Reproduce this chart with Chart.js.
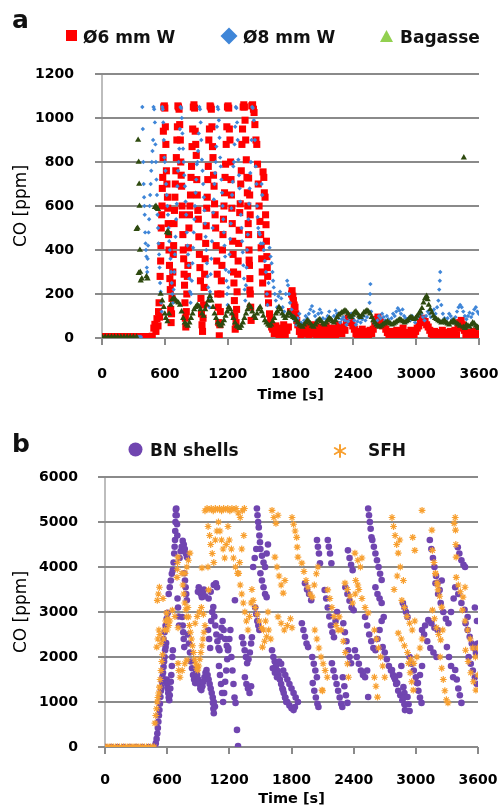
<!DOCTYPE html>
<html>
<head>
<meta charset="utf-8">
<title>CO emissions</title>
<script src="https://cdn.jsdelivr.net/npm/chart.js@4"></script>
<style>
  body { margin: 0; background: #fff; }
  #page { position: relative; width: 502px; height: 809px; font-family: 'DejaVu Sans', sans-serif; color: #111; }
  canvas { position: absolute; left: 0; }
  .txt { position: absolute; font-weight: bold; white-space: nowrap; }
  .panel { font-size: 25px; line-height: 25px; }
  .leg { font-size: 17px; line-height: 17px; }
</style>
</head>
<body>
<div id="page">
  <canvas id="chartA" width="502" height="410" style="top:0"></canvas>
  <canvas id="chartB" width="502" height="405" style="top:404px"></canvas>

  <div class="txt panel" style="left:12px; top:7px">a</div>
  <div class="txt leg" style="left:83px; top:29px">Ø6 mm W</div>
  <div class="txt leg" style="left:243px; top:29px">Ø8 mm W</div>
  <div class="txt leg" style="left:400px; top:29px">Bagasse</div>

  <div class="txt panel" style="left:12px; top:431px">b</div>
  <div class="txt leg" style="left:150px; top:442px">BN shells</div>
  <div class="txt leg" style="left:368px; top:442px">SFH</div>
</div>

<script>
// panel a: CO [ppm] vs time [s]
const w6mmData = [
  [0,6],[20,6],[40,6],[60,6],[80,6],[100,6],[120,6],[140,6],[160,6],[180,6],[200,6],[220,6],[240,6],[260,6],[280,6],[300,6],[320,6],[340,6],[360,6],[380,6],[400,6],[420,6],[440,6],[460,6],[480,8],
  [495,45],[505,62],[515,30],[525,88],[535,55],
  [540,120],[545,160],[550,95],[555,280],[560,350],[563,420],[566,500],[570,560],[573,600],[576,680],[580,730],[583,820],[586,940],[590,1050],[595,1055],[600,1045],[605,960],[610,880],[615,760],[620,700],[625,640],[628,590],[632,520],[636,470],[640,400],[644,330],[648,270],[652,220],[656,130],[660,70],[664,110],[668,180],
  [672,250],[676,300],[680,380],[684,420],[688,520],[692,580],[696,640],[700,700],[705,760],[710,820],[715,900],[720,960],[725,1055],[730,1050],[736,1040],[742,970],[748,900],[752,800],[756,740],[760,690],[764,600],[768,560],[772,470],[776,400],[780,360],[784,290],[788,240],[792,160],[796,90],[800,50],
  [805,120],[810,200],[815,280],[820,330],[825,410],[830,500],[835,560],[840,600],[845,650],[850,730],[855,780],[860,870],[866,950],[872,1050],[878,1060],[884,1045],[890,940],[895,880],[900,830],[905,720],[910,650],[915,580],[920,540],[925,460],[930,380],[935,320],[940,260],[945,180],[950,110],[955,60],
  [960,30],[965,90],[970,150],[975,230],[980,290],[985,360],[990,430],[995,510],[1000,590],[1005,640],[1010,720],[1015,780],[1020,900],[1026,950],[1032,1055],[1038,1050],[1044,1040],[1050,960],[1055,870],[1060,820],[1065,740],[1070,690],[1075,610],[1080,560],[1085,500],[1090,420],[1095,350],[1100,290],[1105,200],[1110,140],[1115,70],[1120,10],
  [1125,60],[1130,120],[1135,200],[1140,260],[1145,330],[1150,400],[1155,470],[1160,540],[1165,600],[1170,660],[1175,730],[1180,790],[1186,880],[1192,960],[1198,1050],[1204,1055],[1210,1045],[1216,950],[1222,900],[1228,800],[1232,720],[1236,650],[1240,590],[1244,520],[1248,440],[1252,380],[1256,300],[1260,250],[1264,170],[1268,100],[1272,40],
  [1280,70],[1285,130],[1290,210],[1295,290],[1300,350],[1305,430],[1310,490],[1315,570],[1320,610],[1325,700],[1330,760],[1336,880],[1342,950],[1348,1050],[1354,1060],[1360,1050],[1366,990],[1372,900],[1378,810],[1384,730],[1388,660],[1392,600],[1396,520],[1400,470],[1404,400],[1408,330],[1412,270],[1416,200],[1420,140],[1424,80],
  [1400,727],[1410,650],[1415,560],[1405,354],[1412,218],
  [1430,1055],[1438,1060],[1446,1040],[1452,1025],[1460,970],[1470,900],[1478,880],[1485,790],[1492,700],[1500,600],[1508,530],[1515,470],[1520,410],[1525,360],[1530,300],[1534,250],[1538,755],[1545,730],[1550,660],[1557,640],[1562,560],[1566,515],[1570,440],[1574,370],[1578,320],[1582,280],[1585,200],[1590,160],[1600,110],[1610,80],[1620,50],
  [1630,40],[1645,20],[1660,55],[1675,30],[1690,10],[1705,45],[1720,25],[1735,60],[1750,15],[1765,35],[1780,50],
  [1800,120],[1810,200],[1815,215],[1822,190],[1828,170],[1835,150],[1843,140],[1850,110],[1860,80],
  [1870,60],[1885,30],[1900,15],[1915,40],[1930,20],[1945,55],[1960,25],[1975,10],[1990,45],[2005,30],[2020,60],[2035,20],[2050,10],[2065,35],[2080,50],[2095,25],[2110,15],[2125,40],[2140,55],[2155,20],[2170,10],[2185,30],[2200,45],[2215,25],[2230,15],[2245,40],[2260,60],[2275,30],[2290,20],[2305,50],[2320,35],[2335,70],[2350,90],[2365,100],[2380,75],[2395,55],[2410,40],[2425,20],[2440,10],[2455,30],[2470,15],[2485,40],[2500,25],[2515,10],[2530,30],[2545,15],[2560,35],[2575,20],[2590,40],[2605,60],[2620,85],[2635,95],[2650,80],[2665,70],[2680,55],[2695,65],[2710,40],[2725,25],[2740,15],[2755,30],[2770,10],[2785,25],[2800,15],[2815,35],[2830,20],[2845,10],[2860,30],[2875,45],[2890,20],[2905,10],[2920,25],[2935,15],[2950,35],[2965,20],[2980,10],[2995,30],[3010,45],[3025,55],[3040,70],[3055,90],[3070,85],[3085,75],[3100,60],[3115,50],[3130,35],[3145,20],[3160,10],[3175,30],[3190,15],[3205,25],[3220,10],[3235,20],[3250,35],[3265,15],[3280,10],[3295,25],[3310,15],[3325,30],[3340,10],[3355,20],[3370,35],[3385,15],[3400,45],[3415,70],[3430,80],[3445,60],[3460,35],[3475,15],[3490,25],[3505,10],[3520,20],[3535,15],[3550,30],[3565,10],[3580,20],[3595,15]
];

const w8mmData = [
  [345,5],[360,5],[372,5],
  [385,1050],[390,950],[395,800],[398,700],[402,640],[405,600],[408,560],[412,480],[416,430],[420,400],[424,370],[428,320],[432,300],[436,360],[440,420],[445,480],[450,540],[455,600],[460,650],[465,700],[470,760],[476,800],[482,850],[488,900],[492,1050],[498,1040],[505,980],[510,880],[515,800],[520,720],[525,650],[530,560],[535,500],[540,430],[545,380],[550,320],[555,250],[560,210],[565,160],[570,120],[575,1050],[580,1040],
  [585,980],[590,900],[596,820],[600,800],[606,760],[612,700],[618,650],[624,600],[630,560],[636,500],[642,440],[648,400],[654,360],[660,300],[666,250],[672,200],[678,160],[684,220],[690,300],[696,380],[702,460],[708,540],[714,610],[720,690],[726,760],[732,800],[738,860],[744,950],[750,1050],[756,1045],[762,1000],[768,930],[774,860],[780,800],[786,740],[792,690],[798,620],[804,560],[810,480],[816,420],[822,380],[828,330],[834,270],[840,210],[846,160],[852,200],[858,260],[864,340],[870,410],[876,480],[882,540],[888,600],[894,660],[900,720],[906,790],[912,800],[918,850],[924,930],[930,1050],[936,1040],[942,980],[948,900],[954,810],[960,760],[966,700],[972,640],[978,580],[984,520],[990,460],[996,400],[1002,340],[1008,280],[1014,230],[1020,180],[1026,140],[1032,210],[1038,290],[1044,360],[1050,440],[1056,500],[1062,570],[1068,630],[1074,700],[1080,750],[1086,800],[1092,870],[1098,960],[1104,1050],[1110,1040],[1116,990],[1122,910],[1128,820],[1134,780],[1140,720],[1146,660],[1152,600],[1158,540],[1164,480],[1170,420],[1176,370],[1182,310],[1188,260],[1194,200],[1200,150],[1206,230],[1212,300],[1218,380],[1224,450],[1230,520],[1236,590],[1242,650],[1248,710],[1254,780],[1260,800],[1266,880],[1272,960],[1278,1050],[1284,1045],[1290,980],[1296,900],[1302,810],[1308,740],[1314,680],[1320,620],[1326,560],[1332,500],[1338,440],[1344,390],[1350,330],[1356,270],[1362,220],[1368,170],[1374,240],[1380,320],[1386,400],[1392,470],[1398,540],[1404,610],[1410,680],[1416,750],[1422,800],[1428,900],[1434,1050],[1440,1045],
  [1450,990],[1460,900],[1468,780],[1475,700],[1480,600],[1486,550],[1492,500],[1500,480],[1508,470],[1516,430],[1524,700],[1530,650],[1536,430],[1545,400],[1555,350],[1565,300],[1575,200],[1580,150],[1590,250],[1600,410],[1610,370],[1620,340],[1628,300],[1634,260],[1640,230],[1650,200],[1660,170],[1672,140],[1685,190],[1700,210],[1712,180],[1725,140],[1740,120],[1755,200],[1768,260],[1776,240],[1785,200],[1795,160],[1810,130],[1825,100],[1840,80],
  [1855,60],[1870,90],[1885,110],[1900,70],[1915,60],[1930,80],[1945,100],[1960,90],[1975,110],[1990,130],[2005,145],[2020,120],[2035,100],[2050,80],[2065,110],[2080,130],[2095,115],[2110,90],[2125,70],[2140,85],[2155,100],[2170,120],[2185,90],[2200,75],[2215,100],[2230,125],[2245,110],[2260,90],[2275,70],[2290,85],[2305,95],[2320,80],[2335,60],[2350,75],[2365,90],[2380,110],[2395,95],[2410,80],[2425,60],[2440,75],[2455,90],[2470,70],[2485,85],[2500,100],[2515,80],[2530,95],[2545,120],[2555,160],[2560,200],[2563,245],[2570,120],[2585,90],[2600,70],[2615,60],[2630,80],[2645,100],[2660,90],[2675,110],[2690,95],[2705,80],[2720,100],[2735,85],[2750,70],[2765,90],[2780,110],[2795,100],[2810,120],[2825,135],[2840,125],[2855,110],[2870,130],[2885,100],[2900,90],[2915,75],[2930,90],[2945,80],[2960,100],[2975,85],[2990,70],[3005,90],[3020,100],[3035,120],[3050,110],[3065,95],[3080,80],[3095,100],[3110,120],[3125,110],[3140,95],[3155,120],[3170,130],[3185,110],[3200,140],[3212,170],[3220,220],[3226,260],[3230,300],[3240,150],[3255,110],[3270,90],[3285,75],[3300,90],[3315,110],[3330,100],[3345,85],[3360,70],[3375,95],[3390,120],[3405,140],[3420,150],[3435,140],[3450,120],[3465,100],[3480,85],[3495,100],[3510,115],[3525,95],[3540,110],[3555,130],[3570,140],[3585,120],[3598,110]
];

const bagasseData = [
  [0,5],[30,5],[60,5],[90,5],[120,5],[150,5],[180,5],[210,5],[240,5],[270,5],[300,5],[330,5],
  [345,900],[350,800],[355,700],[358,600],[340,500],[330,495],[362,400],[365,300],[350,295],[380,270],[370,260],
  [425,280],[435,270],[505,595],[515,600],[525,590],[535,585],[620,480],[630,485],[640,475],
  [560,200],[575,170],[590,140],[600,110],[610,90],[625,75],[640,110],[655,150],[670,175],[685,180],[700,175],[715,165],[730,160],[745,150],[760,120],[775,90],[790,70],[805,60],[820,55],[835,70],[850,90],[865,110],[880,130],[895,140],[910,150],[925,145],[940,130],[955,110],[970,100],[985,130],[1000,150],[1015,170],[1030,190],[1045,170],[1060,140],[1075,110],[1090,90],[1105,70],[1120,60],[1135,55],[1150,65],[1165,80],[1180,100],[1195,120],[1210,140],[1225,130],[1240,110],[1255,90],[1270,70],[1285,55],[1300,50],[1315,45],[1330,55],[1345,70],[1360,90],[1375,110],[1390,130],[1405,150],[1420,140],[1435,120],[1450,100],[1465,90],[1480,110],[1495,130],[1510,140],[1525,120],[1540,100],[1555,80],[1570,70],[1585,60],[1600,55],[1615,60],[1630,75],[1645,90],[1660,110],[1675,120],[1690,140],[1705,130],[1720,110],[1735,100],[1750,90],[1765,100],[1780,115],[1795,110],[1810,100],[1825,95],[1840,90],
  [1855,80],[1870,70],[1885,60],[1900,55],[1915,50],[1930,60],[1945,70],[1960,80],[1975,75],[1990,65],[2005,55],[2020,50],[2035,60],[2050,70],[2065,80],[2080,85],[2095,75],[2110,65],[2125,60],[2140,70],[2155,80],[2170,90],[2185,85],[2200,75],[2215,70],[2230,80],[2245,95],[2260,105],[2275,110],[2290,115],[2305,120],[2320,125],[2335,120],[2350,110],[2365,100],[2380,95],[2395,105],[2410,115],[2425,120],[2440,110],[2455,100],[2470,95],[2485,105],[2500,115],[2515,120],[2530,125],[2545,120],[2560,110],[2575,95],[2590,80],[2605,70],[2620,60],[2635,55],[2650,50],[2665,55],[2680,60],[2695,65],[2710,70],[2725,75],[2740,70],[2755,65],[2770,60],[2785,65],[2800,70],[2815,75],[2830,80],[2845,85],[2860,80],[2875,75],[2890,70],[2905,75],[2920,80],[2935,90],[2950,95],[2965,90],[2980,85],[2995,90],[3010,100],[3025,110],[3040,120],[3055,135],[3070,160],[3085,180],[3100,190],[3110,175],[3120,150],[3135,130],[3150,115],[3165,100],[3180,90],[3195,85],[3210,80],[3225,75],[3240,70],[3255,75],[3270,80],[3285,70],[3300,65],[3315,60],[3330,70],[3345,75],[3360,80],[3375,70],[3390,65],[3405,60],[3420,55],[3455,820],[3450,50],[3465,45],[3480,60],[3495,55],[3510,50],[3525,60],[3540,70],[3555,65],[3570,55],[3585,50],[3598,45]
];

// panel b
const bnShellsData = [
  [0,0],[60,0],[120,0],[180,0],[240,0],[300,0],[360,0],[420,0],
  [480,20],[490,80],[498,180],[505,300],[510,420],[515,560],[520,700],[525,820],[530,960],[535,1110],[540,1250],[545,1330],[550,1450],[555,1560],[560,1650],[565,1780],[570,1900],[575,2000],[580,2150],[585,2220],[590,2310],
  [595,1500],[600,1400],[605,1300],[610,1200],[615,1100],[620,1040],[625,1150],[630,1300],[635,1450],[640,1600],[645,1800],[650,2000],[655,2150],
  [565,2400],[575,2550],[585,2700],[595,2850],[605,2980],
  [615,3400],[625,3550],[635,3700],[645,3850],[655,3930],
  [662,4100],[668,4300],[672,4450],[676,4600],[678,4800],[680,5000],[682,5150],[684,5280],[688,5300],[692,5150],[695,4950],[698,4700],
  [720,4200],[730,4350],[740,4450],[750,4580],[760,4500],[770,4400],[780,4300],[790,4220],
  [765,3860],[772,3700],[778,3550],[784,3400],[790,3260],
  [700,3300],[705,3100],[710,2900],[715,2700],
  [745,2890],[750,2700],[755,2550],[760,2400],[765,2220],
  [800,2500],[810,2300],[820,2100],[830,1900],[840,1750],[850,1600],[860,1500],[870,1420],
  [897,3450],[905,3550],[915,3500],[925,3400],[935,3330],[945,3450],[955,3500],[965,3350],
  [1000,3300],[1020,3450],[1050,3600],[1070,3640],[1081,3550],
  [995,2600],[1005,2400],[1015,2200],[1025,2800],[1035,3000],[1045,3110],[1055,2900],[1065,2700],[1075,2500],[1085,2350],[1095,2200],[1105,2150],[1115,2450],[1125,2650],[1135,2800],[1145,2600],[1160,2400],[1175,2250],[1187,2150],
  [880,1700],[890,1600],[900,1500],[910,1400],[920,1300],[930,1265],[940,1350],[950,1450],[960,1550],[970,1650],[980,1710],[990,1600],[1000,1500],[1010,1400],[1020,1300],[1030,1200],[1040,1100],[1050,1000],[1061,900],
  [1042,980],[1046,850],[1050,750],
  [1100,1800],[1110,1600],[1120,1400],[1130,1200],[1140,1000],[1150,1200],[1160,1450],[1170,1700],[1180,1950],[1190,2200],[1200,2400],[1210,2600],[1220,2000],[1230,1700],[1240,1400],[1250,1100],[1260,980],
  [1274,380],[1284,20],[1254,3260],
  [1322,2440],[1335,2300],[1348,2150],[1360,2000],[1372,1860],[1385,1950],[1398,2100],[1410,2300],[1418,2440],
  [1350,1550],[1365,1400],[1380,1300],[1395,1200],[1410,1350],
  [1466,5300],[1472,5150],[1478,5000],[1484,4880],[1490,4700],[1496,4550],
  [1430,4000],[1445,4200],[1460,4400],[1500,4400],[1515,4250],[1530,4100],[1545,4000],[1560,4300],[1573,4500],
  [1500,3860],[1515,3700],[1530,3550],[1545,3400],[1560,3330],
  [1450,3100],[1460,2950],[1470,2800],[1480,2700],[1490,2600],
  [1612,2150],[1625,2000],[1638,1900],[1650,1800],[1662,1700],[1675,1600],[1688,1500],[1700,1400],[1712,1300],[1725,1200],[1738,1100],[1750,1000],[1620,1750],[1640,1650],[1660,1550],[1680,1900],[1700,1850],[1720,1700],[1740,1600],[1760,1500],[1780,1400],[1800,1300],[1820,1200],[1840,1100],[1862,1000],
  [1718,1265],[1740,1100],[1760,1000],[1780,920],[1800,860],[1820,820],[1833,890],
  [1900,2750],[1915,2600],[1930,2450],[1945,2300],[1960,2220],
  [1930,3640],[1950,3500],[1970,3400],[1990,3260],
  [2046,4600],[2055,4450],[2065,4300],[2075,4085],
  [2000,2000],[2015,1850],[2030,1700],[2045,1550],
  [2005,1420],[2020,1250],[2035,1100],[2050,960],[2060,890],
  [2150,4600],[2160,4450],[2172,4300],[2185,4085],
  [2120,3490],[2135,3300],[2150,3100],[2165,2900],[2180,2700],[2195,2550],[2210,2440],[2225,2800],[2240,3000],
  [2190,1860],[2205,1700],[2220,1550],[2235,1400],[2250,1250],[2265,1100],[2280,960],[2290,890],
  [2345,4370],[2360,4200],[2375,4050],[2390,3930],
  [2320,3550],[2340,3400],[2360,3250],[2380,3100],[2400,3040],
  [2300,2750],[2315,2550],[2330,2350],[2345,2150],[2360,2000],[2375,1860],
  [2295,1550],[2310,1350],[2325,1150],[2340,980],
  [2412,2150],[2430,2000],[2450,1850],[2470,1700],[2490,1600],[2510,1550],[2530,1700],
  [2540,5300],[2548,5150],[2556,5000],[2564,4850],[2572,4660],
  [2580,4600],[2595,4450],[2610,4300],[2625,4150],[2640,4000],[2655,3850],[2670,3710],
  [2610,3550],[2630,3400],[2650,3300],[2670,3200],
  [2510,2890],[2530,2700],[2550,2500],[2570,2350],[2590,2200],[2610,2150],[2630,2400],[2650,2600],[2670,2800],[2690,2890],
  [2540,1110],
  [2680,2220],[2700,2100],[2720,1950],[2740,1800],[2760,1700],[2780,1600],[2800,1500],[2820,1420],[2840,1600],[2860,1800],
  [2770,1710],[2790,1550],[2810,1400],[2830,1250],[2850,1150],[2870,1040],[2890,1200],
  [2880,1330],[2885,1100],[2890,950],[2895,820],
  [2920,1110],[2930,950],[2940,800],
  [2875,3200],[2890,3100],[2905,3000],[2920,2890],
  [2940,2000],[2960,1850],[2980,1700],[3000,1550],[3020,1420],[3040,1600],[3060,1800],
  [3010,1420],[3025,1250],[3040,1100],[3055,980],
  [3060,2600],[3090,2700],[3120,2820],[3150,2750],[3180,2650],[3210,2600],
  [3080,2500],[3110,2350],[3140,2200],[3170,2100],[3200,2000],
  [3135,4600],[3150,4400],[3165,4200],[3180,4000],[3195,3800],[3210,3650],[3230,3490],[3250,3700],
  [3190,3640],[3215,3400],[3240,3200],[3265,3000],[3290,2850],[3315,2750],[3340,3000],[3365,3300],
  [3380,1710],[3395,1500],[3410,1300],[3425,1150],[3440,980],
  [3300,2220],[3320,2000],[3340,1800],[3360,1550],
  [3405,4440],[3420,4300],[3440,4150],[3460,4050],[3475,4000],
  [3380,3550],[3410,3400],[3440,3200],[3470,3050],[3500,2890],
  [3480,2750],[3500,2600],[3520,2450],[3540,2300],[3560,2200],[3580,2090],[3598,2300],
  [3510,2000],[3530,1850],[3550,1700],[3570,1550],[3590,1400],[3570,3100],[3590,2800]
];

const sfhData = [
  [0,0],[20,0],[40,0],[60,0],[80,0],[100,0],[120,0],[140,0],[160,0],[180,0],[200,0],[220,0],[240,0],[260,0],[280,0],[300,0],[320,0],[340,0],[360,0],[380,0],[400,0],[420,0],[440,0],[460,0],[475,0],
  [482,530],[490,700],[497,850],[504,1000],[511,1100],[518,1200],[525,1330],[532,1500],[540,1700],[548,1900],[555,2050],[500,2220],[510,2400],[520,2600],[530,2500],[540,2300],
  [505,3260],[515,3400],[525,3550],[560,3300],
  [565,2400],[575,2600],[585,2800],[595,2980],[605,2850],[615,2700],
  [600,2600],[625,2800],[650,3040],[675,2900],[705,2650],
  [695,3770],[698,3950],[701,4100],[704,4220],
  [743,3860],[752,3600],[760,3400],[770,3200],[780,3050],[790,2890],[800,3100],
  [705,1860],[712,1700],
  [805,2890],[815,2700],[825,2550],[835,2400],[845,2250],[855,2100],[865,1950],[875,1850],[885,1750],[895,1710],[905,1800],[915,1950],[925,2100],[935,2250],[945,2400],[955,2550],[965,2700],
  [870,2750],[890,2900],[910,3000],[930,3100],[950,2950],
  [772,3860],[790,4000],[805,4150],[820,4310],
  [724,1550],[745,1700],[770,1850],[790,1930],
  [965,5250],[985,5300],[1005,5280],[1025,5300],[1045,5250],[1065,5300],[1085,5280],[1105,5300],[1125,5250],[1145,5300],[1165,5280],[1185,5300],[1205,5250],[1225,5300],[1245,5280],[1265,5300],[1285,5200],[1305,5100],[1325,5250],[1345,5300],
  [995,4900],[1010,4700],[1020,4500],[1035,4300],[1050,4100],[1065,4600],[1080,4800],[1095,5000],[1110,4800],[1125,4600],[1140,4400],[1155,4200],[1170,4500],[1187,4900],
  [994,4000],[1000,3490],[936,3980],
  [1200,4600],[1220,4400],[1240,4200],[1260,4000],[1280,3860],[1300,4100],[1320,4400],[1340,4700],
  [1290,3860],[1305,3600],[1320,3400],[1335,3200],[1350,3000],[1365,2800],[1380,2600],[1395,2900],[1410,3200],[1418,3500],
  [1430,3260],[1450,3100],[1470,2950],[1490,2800],[1510,2650],[1530,2600],[1550,2800],[1573,3000],
  [1520,2220],[1540,2350],[1560,2450],[1580,2600],[1600,2400],
  [1612,5260],[1630,5100],[1650,4970],[1670,5150],
  [1640,4220],[1660,4000],[1680,3800],[1700,3600],[1720,3420],[1737,3700],
  [1670,2890],[1700,2750],[1730,2600],[1760,2700],[1790,2850],[1805,2650],
  [1805,5100],[1820,4950],[1835,4800],[1850,4660],[1855,4440],[1862,4220],
  [1900,4085],[1920,3900],[1940,3700],[1960,3550],[1980,3400],[2000,3330],[2020,3600],[2040,3850],[2055,4000],
  [2025,2600],[2045,2400],[2065,2200],[2085,2000],[2105,1850],[2125,1700],[2145,1550],
  [2094,1265],[2100,1250],
  [2150,3490],[2170,3300],[2190,3100],[2210,2900],[2230,2700],[2250,2600],
  [2316,3640],[2340,3500],[2365,3350],[2390,3200],[2415,3400],[2440,3600],
  [2260,2890],[2280,2600],[2300,2350],[2320,2100],[2340,1850],[2350,1550],
  [2412,4310],[2440,4150],[2465,4000],[2480,4200],
  [2420,3700],[2450,3500],[2480,3300],[2510,3100],[2540,2980],
  [2600,2600],[2620,2400],[2640,2200],[2660,2000],[2680,1800],[2700,1550],
  [2600,1550],[2615,1350],[2630,1110],
  [2770,5100],[2785,4900],[2800,4700],[2815,4500],[2830,4310],[2845,4600],
  [2790,3500],[2820,3800],[2850,4000],[2880,3700],
  [2865,3260],[2890,3100],[2915,2900],[2940,2750],[2965,2600],[2990,2800],
  [2830,2530],[2860,2400],[2890,2250],[2920,2100],[2950,1950],[2980,1860],[3010,2000],[3040,2200],[3060,2400],
  [2930,1860],[2945,1650],[2960,1450],[2975,1265],
  [2970,4660],[2990,4370],[3060,5260],[3155,4820],
  [3160,4370],[3175,4100],[3190,3850],[3205,3650],[3215,3490],
  [3190,3860],[3210,3600],[3230,3350],[3250,3110],
  [3160,3040],[3180,2850],[3200,2650],[3220,2500],[3240,2380],[3260,2600],
  [3235,2000],[3250,1750],[3265,1500],[3280,1250],[3295,1050],[3310,980],
  [3380,5100],[3370,4970],[3383,4820],[3386,4500],[3389,4220],
  [3390,3770],[3410,3600],[3430,3450],[3455,3330],[3475,3550],
  [3450,3040],[3475,2800],[3500,2600],[3525,2400],[3550,2200],[3575,2000],[3598,2200],
  [3480,2150],[3505,1900],[3530,1650],[3555,1450],[3580,1265],[3598,1600]
];

const timeMax = 3600, timeStep = 600;
const coMaxA = 1200, coStepA = 200;
const coMaxB = 6000, coStepB = 1000;

const FONT = "'DejaVu Sans', sans-serif";
const GRID = '#8a8a8a';

// gridlines, axis line and tick marks, painted behind what is already on the canvas
const underGrid = {
    id: 'underGrid',
    afterDraw(chart) {
        const { ctx, chartArea: a, scales: { x, y } } = chart;
        ctx.save();
        ctx.globalCompositeOperation = 'destination-over';
        ctx.fillStyle = GRID;
        y.ticks.forEach(t => {
            const py = Math.round(y.getPixelForValue(t.value));
            ctx.fillRect(a.left - 7, py - 1, a.right - a.left + 7, 2);
        });
        x.ticks.forEach(t => {
            const px = Math.round(x.getPixelForValue(t.value));
            ctx.fillRect(px - 1, a.bottom, 2, 7);
        });
        ctx.fillStyle = '#bdbdbd';
        ctx.fillRect(Math.round(a.left) - 1, a.top, 2, a.bottom - a.top);
        ctx.restore();
    }
};

// legend swatches painted on the canvas next to the HTML labels
function swatches(items) {
    return {
        id: 'swatches',
        afterDraw(chart) {
            const ctx = chart.ctx;
            ctx.save();
            items.forEach(it => {
                ctx.fillStyle = it.color;
                ctx.strokeStyle = it.color;
                ctx.beginPath();
                if (it.shape === 'square') {
                    ctx.rect(it.x - 5.5, it.y - 5.5, 11, 11);
                    ctx.fill();
                } else if (it.shape === 'diamond') {
                    ctx.moveTo(it.x, it.y - 8.5); ctx.lineTo(it.x + 8.5, it.y);
                    ctx.lineTo(it.x, it.y + 8.5); ctx.lineTo(it.x - 8.5, it.y);
                    ctx.closePath(); ctx.fill();
                } else if (it.shape === 'triangle') {
                    ctx.moveTo(it.x, it.y - 6); ctx.lineTo(it.x + 6.5, it.y + 6);
                    ctx.lineTo(it.x - 6.5, it.y + 6); ctx.closePath(); ctx.fill();
                } else if (it.shape === 'circle') {
                    ctx.arc(it.x, it.y, 7, 0, Math.PI * 2);
                    ctx.fill();
                } else {
                    ctx.lineWidth = 2;
                    ctx.lineCap = 'round';
                    [90, 30, -30].forEach(d => {
                        const r = d * Math.PI / 180, dx = Math.cos(r) * 6, dy = Math.sin(r) * 6;
                        ctx.moveTo(it.x - dx, it.y - dy);
                        ctx.lineTo(it.x + dx, it.y + dy);
                    });
                    ctx.stroke();
                }
            });
            ctx.restore();
        }
    };
}

function scalesFor(yMax, yStep, yWidth, xHeight, xTickPad, yTickPad, xTitlePad) {
    return {
        x: {
            type: 'linear', min: 0, max: timeMax,
            ticks: { stepSize: timeStep, padding: xTickPad, color: '#000', font: { family: FONT, size: 14, weight: 'bold' }, callback: v => String(v) },
            grid: { display: false },
            border: { display: false },
            title: { display: true, text: 'Time [s]', color: '#000', padding: xTitlePad, font: { family: FONT, size: 14.5, weight: 'bold' } },
            afterFit: s => { s.height = xHeight; s.paddingLeft = 0; s.paddingRight = 0; }
        },
        y: {
            type: 'linear', min: 0, max: yMax,
            ticks: { stepSize: yStep, padding: yTickPad, color: '#000', font: { family: FONT, size: 14, weight: 'bold' }, callback: v => String(v) },
            grid: { display: false },
            border: { display: false },
            title: { display: true, text: 'CO [ppm]', color: '#000', padding: { top: 4, bottom: 4 }, font: { family: FONT, size: 17 } },
            afterFit: s => { s.width = yWidth; s.paddingTop = 0; s.paddingBottom = 0; }
        }
    };
}

const quiet = { legend: { display: false }, tooltip: { enabled: false } };

new Chart(document.getElementById('chartA'), {
    type: 'scatter',
    data: {
        datasets: [
            { label: 'Ø6 mm W', data: w6mmData, pointStyle: 'rect', pointRadius: 5, backgroundColor: '#ff0000', borderWidth: 0, order: 3 },
            { label: 'Ø8 mm W', data: w8mmData, pointStyle: 'rectRot', pointRadius: 2.2, backgroundColor: '#3f86d8', borderWidth: 0, order: 2 },
            { label: 'Bagasse', data: bagasseData, pointStyle: 'triangle', pointRadius: 3.6, backgroundColor: '#2e4a0f', borderWidth: 0, order: 1 }
        ]
    },
    plugins: [underGrid, swatches([
        { shape: 'square', x: 71.5, y: 35.5, color: '#ff0000' },
        { shape: 'diamond', x: 229, y: 36, color: '#3f86d8' },
        { shape: 'triangle', x: 386.5, y: 36, color: '#92d050' }
    ])],
    options: {
        responsive: false,
        animation: false,
        layout: { padding: { top: 74, left: 7, right: 23, bottom: 2 } },
        plugins: quiet,
        scales: scalesFor(coMaxA, coStepA, 95, 70, 20, 20, { top: 4, bottom: 4 })
    }
});

new Chart(document.getElementById('chartB'), {
    type: 'scatter',
    data: {
        datasets: [
            { label: 'BN shells', data: bnShellsData, pointStyle: 'circle', pointRadius: 3.3, backgroundColor: '#7045b0', borderWidth: 0, order: 2 },
            { label: 'SFH', data: sfhData, pointStyle: 'star', pointRadius: 3.4, backgroundColor: '#f8a030', borderColor: '#f8a030', borderWidth: 1.2, order: 1 }
        ]
    },
    plugins: [underGrid, swatches([
        { shape: 'circle', x: 135.5, y: 45.5, color: '#7045b0' },
        { shape: 'asterisk', x: 340, y: 47, color: '#f8a030' }
    ])],
    options: {
        responsive: false,
        animation: false,
        layout: { padding: { top: 73, left: 7, right: 24, bottom: 1 } },
        plugins: quiet,
        scales: scalesFor(coMaxB, coStepB, 98, 61, 17, 19, { top: 0, bottom: 0 })
    }
});
</script>
</body>
</html>
